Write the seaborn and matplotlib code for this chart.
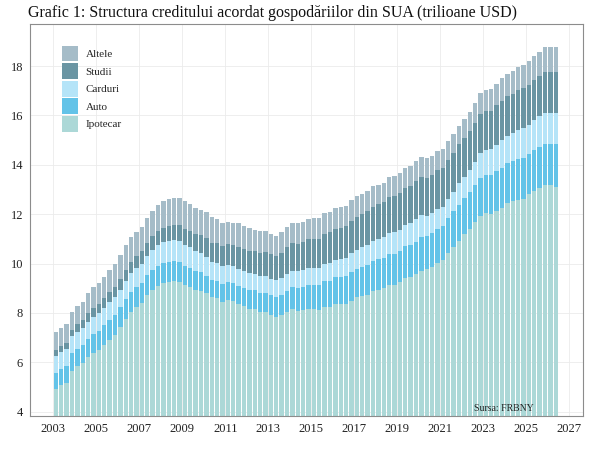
import numpy as np
import pandas as pd
import matplotlib
matplotlib.use("Agg")
import matplotlib.pyplot as plt
from matplotlib.patches import Patch
import seaborn as sns

# Quarterly data, 2003Q1 .. 2026Q2 (trillions USD)
start_year = 2003
ipotecar = [
    4.94, 5.08, 5.18, 5.66,
    5.84, 5.97, 6.21, 6.36,
    6.51, 6.70, 6.91, 7.10,
    7.44, 7.76, 8.05, 8.23,
    8.42, 8.71, 8.93, 9.10,
    9.23, 9.27, 9.29, 9.26,
    9.14, 9.06, 8.94, 8.90,
    8.80, 8.63, 8.60, 8.45,
    8.52, 8.47, 8.35, 8.27,
    8.18, 8.15, 8.03, 8.03,
    7.93, 7.84, 7.90, 8.05,
    8.17, 8.10, 8.13, 8.17,
    8.17, 8.12, 8.26, 8.25,
    8.37, 8.36, 8.35, 8.48,
    8.63, 8.69, 8.74, 8.88,
    8.94, 9.00, 9.14, 9.12,
    9.24, 9.41, 9.44, 9.56,
    9.71, 9.78, 9.86, 10.04,
    10.16, 10.44, 10.67, 10.93,
    11.18, 11.39, 11.67, 11.92,
    12.04, 12.01, 12.14, 12.25,
    12.44, 12.52, 12.59, 12.61,
    12.80, 12.94, 13.07, 13.17,
    13.17, 13.12,
]
auto = [
    0.64, 0.64, 0.68, 0.70,
    0.70, 0.72, 0.73, 0.77,
    0.78, 0.80, 0.80, 0.82,
    0.79, 0.80, 0.82, 0.82,
    0.79, 0.81, 0.82, 0.82,
    0.81, 0.81, 0.80, 0.79,
    0.78, 0.76, 0.75, 0.74,
    0.71, 0.71, 0.71, 0.73,
    0.73, 0.73, 0.74, 0.75,
    0.75, 0.77, 0.78, 0.78,
    0.79, 0.81, 0.83, 0.86,
    0.88, 0.91, 0.93, 0.95,
    0.97, 1.00, 1.03, 1.06,
    1.07, 1.10, 1.13, 1.16,
    1.17, 1.19, 1.21, 1.22,
    1.23, 1.24, 1.26, 1.27,
    1.28, 1.30, 1.32, 1.33,
    1.35, 1.34, 1.36, 1.37,
    1.37, 1.40, 1.44, 1.46,
    1.47, 1.50, 1.52, 1.55,
    1.56, 1.58, 1.60, 1.61,
    1.62, 1.63, 1.64, 1.66,
    1.64, 1.66, 1.66, 1.67,
    1.67, 1.72,
]
carduri = [
    0.69, 0.70, 0.69, 0.71,
    0.69, 0.70, 0.70, 0.72,
    0.71, 0.72, 0.73, 0.74,
    0.72, 0.74, 0.75, 0.77,
    0.77, 0.80, 0.82, 0.84,
    0.84, 0.85, 0.86, 0.87,
    0.84, 0.84, 0.82, 0.80,
    0.76, 0.74, 0.73, 0.73,
    0.70, 0.70, 0.70, 0.70,
    0.68, 0.67, 0.67, 0.68,
    0.66, 0.67, 0.67, 0.68,
    0.66, 0.67, 0.68, 0.70,
    0.68, 0.70, 0.71, 0.73,
    0.71, 0.73, 0.75, 0.78,
    0.76, 0.78, 0.81, 0.83,
    0.82, 0.83, 0.84, 0.87,
    0.85, 0.87, 0.88, 0.93,
    0.89, 0.82, 0.81, 0.82,
    0.77, 0.79, 0.80, 0.86,
    0.84, 0.89, 0.93, 0.99,
    0.99, 1.03, 1.08, 1.13,
    1.12, 1.14, 1.17, 1.21,
    1.18, 1.21, 1.23, 1.25,
    1.25, 1.25,
]
studii = [
    0.24, 0.24, 0.25, 0.25,
    0.32, 0.33, 0.35, 0.36,
    0.36, 0.38, 0.39, 0.39,
    0.43, 0.44, 0.45, 0.48,
    0.51, 0.52, 0.55, 0.55,
    0.58, 0.58, 0.61, 0.64,
    0.66, 0.68, 0.70, 0.72,
    0.76, 0.76, 0.78, 0.81,
    0.84, 0.85, 0.87, 0.87,
    0.90, 0.91, 0.96, 0.97,
    0.99, 0.99, 1.03, 1.08,
    1.11, 1.12, 1.13, 1.16,
    1.19, 1.19, 1.20, 1.23,
    1.26, 1.26, 1.28, 1.31,
    1.34, 1.34, 1.36, 1.38,
    1.41, 1.41, 1.44, 1.46,
    1.49, 1.48, 1.50, 1.51,
    1.54, 1.54, 1.55, 1.56,
    1.58, 1.57, 1.58, 1.58,
    1.59, 1.59, 1.57, 1.60,
    1.60, 1.57, 1.60, 1.60,
    1.60, 1.59, 1.61, 1.61,
    1.63, 1.64, 1.65, 1.66,
    1.66, 1.66,
]
altele = [
    0.73, 0.72, 0.75, 0.73,
    0.73, 0.73, 0.83, 0.83,
    0.84, 0.87, 0.93, 0.93,
    0.96, 1.00, 1.02, 0.99,
    1.00, 0.99, 1.01, 1.05,
    1.07, 1.09, 1.10, 1.09,
    1.10, 1.06, 1.05, 0.99,
    1.05, 1.06, 1.00, 0.93,
    0.91, 0.89, 0.98, 0.94,
    0.92, 0.88, 0.86, 0.86,
    0.83, 0.81, 0.83, 0.83,
    0.81, 0.83, 0.83, 0.84,
    0.83, 0.83, 0.85, 0.83,
    0.83, 0.83, 0.83, 0.83,
    0.82, 0.83, 0.83, 0.83,
    0.80, 0.80, 0.83, 0.82,
    0.80, 0.80, 0.81, 0.82,
    0.81, 0.79, 0.77, 0.77,
    0.76, 0.76, 0.75, 0.75,
    0.76, 0.78, 0.82, 0.84,
    0.85, 0.87, 0.87, 0.91,
    0.91, 0.92, 0.93, 0.95,
    0.95, 0.94, 0.96, 1.03,
    1.03, 1.02,
]

series_names = ["Ipotecar", "Auto", "Carduri", "Studii", "Altele"]
series_vals = [ipotecar, auto, carduri, studii, altele]
colors = {
    "Ipotecar": "#ACD8D7",
    "Auto": "#63C3E8",
    "Carduri": "#B5E4F8",
    "Studii": "#6A95A3",
    "Altele": "#A5BCC8",
}

n = len(ipotecar)
periods = pd.period_range(f"{start_year}Q1", periods=n, freq="Q")
xpos = np.array([p.year + (p.quarter - 1) / 4 + 0.125 for p in periods])

rows = []
for name, vals in zip(series_names, series_vals):
    for x, v in zip(xpos, vals):
        rows.append({"t": x, "tip": name, "val": v})
df = pd.DataFrame(rows)

sns.set_theme(style="white")
serif = ["Liberation Serif", "DejaVu Serif"]
plt.rcParams["font.family"] = serif

fig = plt.figure(figsize=(6, 4.5), dpi=100)
ax = fig.add_axes([0.05, 0.0756, 0.922, 0.871])

# seaborn stacks the last hue level at the bottom -> reverse order
sns.histplot(
    data=df, x="t", weights="val", hue="tip", hue_order=series_names[::-1],
    multiple="stack", binwidth=0.25, binrange=(2003, 2003 + n * 0.25),
    shrink=0.82, palette=colors, alpha=1, linewidth=0, legend=False, ax=ax,
)

ax.set_xlim(2001.92, 2027.65)
ax.set_ylim(3.83, 19.70)
ax.set_xticks(range(2003, 2028, 2))
ax.set_yticks(range(4, 19, 2))
ax.set_xlabel("")
ax.set_ylabel("")
ax.grid(True, color="#EBEBEB", linewidth=0.6)
ax.set_axisbelow(True)
for s in ax.spines.values():
    s.set_visible(True)
    s.set_color("#8C8C8C")
    s.set_linewidth(0.8)
ax.tick_params(axis="both", length=3, width=0.6, color="#555555",
               labelsize=9, labelcolor="#222222", pad=2)

handles = [Patch(facecolor=colors[nm], edgecolor="none", label=nm)
           for nm in series_names[::-1]]
ax.legend(handles=handles, loc="upper left", bbox_to_anchor=(0.058, 0.945),
          frameon=False, fontsize=8, handlelength=1.45, handleheight=1.8,
          labelspacing=0.17, handletextpad=0.65, borderpad=0, borderaxespad=0)

ax.text(0.911, 0.008, "Sursa: FRBNY", transform=ax.transAxes, ha="right",
        va="bottom", fontsize=7, color="#222222")

fig.text(28 / 600, 1 - 17 / 450, "Grafic 1: Structura creditului acordat gospodăriilor din SUA (trilioane USD)",
         ha="left", va="baseline", fontsize=11.5, color="#111111")

fig.savefig("out.png", dpi=100)
